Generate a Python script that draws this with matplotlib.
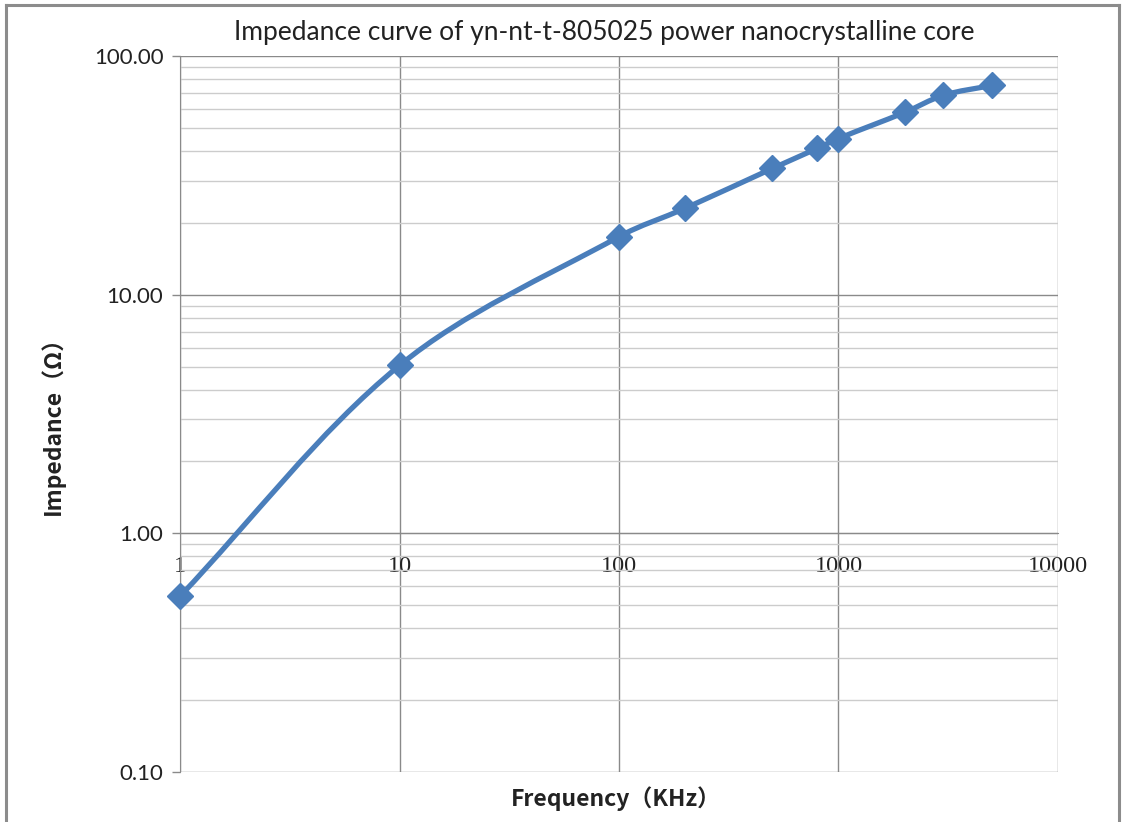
import numpy as np
import matplotlib
matplotlib.use("Agg")
from matplotlib import pyplot as plt
from matplotlib.path import Path
from matplotlib.patches import PathPatch
from matplotlib.ticker import FixedLocator, NullFormatter, LogLocator
from matplotlib.lines import Line2D

freq = [1, 10, 100, 200, 500, 800, 1000, 2000, 3000, 5000]
impedance = [0.545, 5.05, 17.5, 23.0, 33.8, 41.0, 45.1, 58.0, 68.4, 75.3]

x_ticks = [1, 10, 100, 1000, 10000]
x_labels = ["1", "10", "100", "1000", "10000"]
y_ticks = [0.1, 1, 10, 100]
y_labels = ["0.10", "1.00", "10.00", "100.00"]

title = "Impedance curve of yn-nt-t-805025 power nanocrystalline core"
xlabel = "Frequency（KHz）"
ylabel = "Impedance（Ω）"

BLUE = "#4A7EBB"
CJK = ["Noto Sans CJK SC", "DejaVu Sans"]

fig = plt.figure(figsize=(11.23, 8.22), dpi=100)
ax = fig.add_axes([0.1603, 0.0608, 0.9421 - 0.1603, 0.9319 - 0.0608])
ax.set_xscale("log")
ax.set_yscale("log")
ax.set_xlim(1, 10000)
ax.set_ylim(0.1, 100)

# gridlines (Excel style)
ax.yaxis.set_minor_locator(LogLocator(base=10, subs=np.arange(2, 10)))
ax.yaxis.set_minor_formatter(NullFormatter())
ax.xaxis.set_minor_locator(FixedLocator([]))
ax.grid(True, which="major", color="#8a8a8a", linewidth=1.0)
ax.grid(True, which="minor", axis="y", color="#cccccc", linewidth=1.0)
ax.set_axisbelow(True)

for s in ["top", "right"]:
    ax.spines[s].set_visible(False)
ax.spines["left"].set_color("#8a8a8a")
ax.spines["bottom"].set_color("#8a8a8a")
ax.spines["bottom"].set_position(("data", 1))

ax.set_yticks(y_ticks)
ax.set_yticklabels(y_labels, fontsize=16, color="#222222", family="Lato")
ax.tick_params(axis="y", which="major", length=6, width=1, color="#8a8a8a",
               direction="out", pad=6)
ax.tick_params(axis="y", which="minor", length=0)

ax.set_xticks(x_ticks)
ax.set_xticklabels(x_labels, fontsize=17.5, color="#222222", family="Liberation Serif")
ax.tick_params(axis="x", length=0, pad=16)

# smoothed line like Excel: bezier through the points, built in display space
fig.canvas.draw()
pts = ax.transData.transform(np.column_stack([freq, impedance]))
n = len(pts)
verts = [pts[0]]
codes = [Path.MOVETO]
for i in range(n - 1):
    p0 = pts[max(i - 1, 0)]
    p1 = pts[i]
    p2 = pts[i + 1]
    p3 = pts[min(i + 2, n - 1)]
    seg = np.hypot(*(p2 - p1))
    t1 = (p2 - p0) / np.hypot(*(p2 - p0))
    t2 = (p3 - p1) / np.hypot(*(p3 - p1))
    verts += [p1 + t1 * seg / 3, p2 - t2 * seg / 3, p2]
    codes += [Path.CURVE4] * 3
verts = ax.transData.inverted().transform(np.array(verts))
path = Path(verts, codes)
ax.add_patch(PathPatch(path, facecolor="none", edgecolor=BLUE, linewidth=3.8,
                       capstyle="round", joinstyle="round", zorder=3))

ax.plot(freq, impedance, linestyle="none", marker="D", markersize=13,
        color=BLUE, zorder=4, clip_on=False)

fig.text(0.538, 0.961, title, ha="center", va="center", fontsize=19,
         family="Lato", color="#222222")
fig.text(0.548, 0.029, xlabel, ha="center", va="center", fontsize=16.5,
         fontweight="bold", family=CJK, color="#222222")
fig.text(0.047, 0.489, ylabel, ha="center", va="center", fontsize=16.5,
         fontweight="bold", family=CJK, color="#222222", rotation=90)

# outer frame of the chart
for xs, ys in [([0.005, 0.005], [0.0, 0.994]), ([0.005, 0.996], [0.994, 0.994]),
               ([0.996, 0.996], [0.0, 0.994])]:
    fig.add_artist(Line2D(xs, ys, color="#8c8c8c", linewidth=2.2,
                          transform=fig.transFigure))

fig.savefig("out.png", dpi=100)
